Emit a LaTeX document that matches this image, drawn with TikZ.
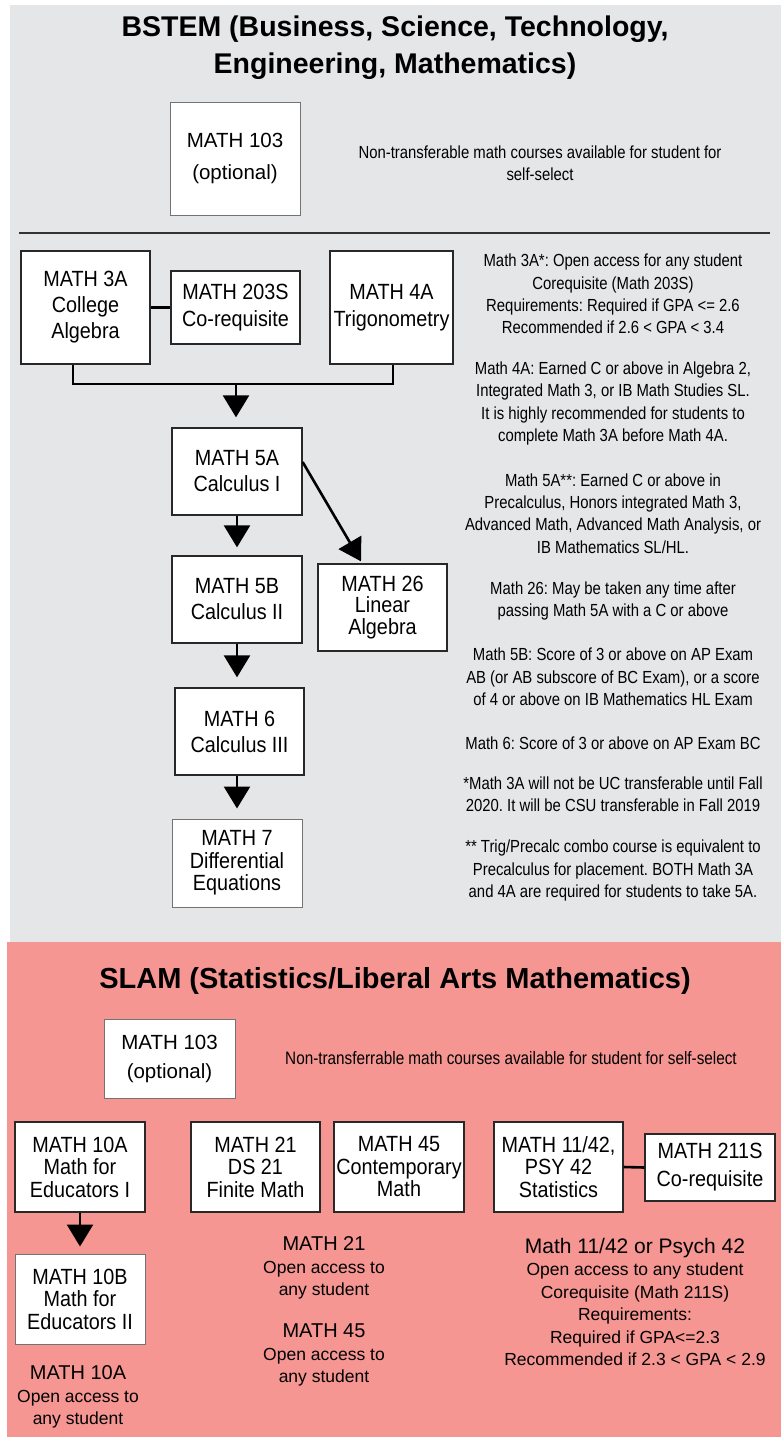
\documentclass[tikz,border=0pt]{standalone}
\usepackage{fontspec}
\setmainfont{Liberation Sans}
\newfontfamily\boxfam[FakeStretch=0.9]{Liberation Sans}
\newfontfamily\notefam[FakeStretch=0.85]{Liberation Sans}
\usetikzlibrary{arrows.meta,calc}
\definecolor{bggray}{RGB}{229,230,232}
\definecolor{bgpink}{RGB}{245,150,146}
\definecolor{edge}{RGB}{40,40,40}
\tikzset{
  box/.style={draw=edge, line width=1.3pt, fill=white, inner sep=0pt, align=center,
    font=\boxfam\fontsize{22}{26}\selectfont},
  openbox/.style={box, draw=black!55, line width=1pt},
  conn/.style={line width=2.6pt, draw=black},
  arr/.style={conn, -{Triangle[width=26pt,length=22pt]}},
  note/.style={align=center, inner sep=0pt, font=\notefam\fontsize{17.5}{22.3}\selectfont},
  lab/.style={align=center, inner sep=0pt, font=\fontsize{17.5}{22.5}\selectfont},
  heading/.style={align=center, inner sep=0pt, font=\fontsize{28.5}{37}\selectfont\bfseries},
}
\newcommand{\labhead}[1]{{\fontsize{20}{22.5}\selectfont #1}}
\begin{document}
\frenchspacing
\begin{tikzpicture}[x=1pt,y=-1pt]
\useasboundingbox (0,0) rectangle (781,1437);
\fill[white] (0,0) rectangle (781,1437);
\fill[bggray] (10,5) rectangle (781,942);
\fill[bgpink] (7,942) rectangle (781,1437);

% ---------------- BSTEM ----------------
\node[heading] (t1) at (395,48) {BSTEM (Business, Science, Technology,\\Engineering, Mathematics)};

\node[openbox, minimum width=130pt, minimum height=113pt, font=\fontsize{20.5}{32}\selectfont] (b103) at (235,158.5) {MATH 103\\(optional)};
\node[note] (nb103) at (540,163) {Non-transferable math courses available for student for\\self-select};

\draw[line width=2pt, draw=black!80] (19,233) -- (770,233);

\node[box, minimum width=129pt, minimum height=113pt] (m3a) at (85.5,307.5) {MATH 3A\\College\\Algebra};
\node[box, minimum width=129pt, minimum height=73pt, font=\boxfam\fontsize{22}{27}\selectfont] (m203) at (235.5,307.5) {MATH 203S\\Co-requisite};
\node[box, minimum width=123pt, minimum height=113pt, font=\boxfam\fontsize{22}{27}\selectfont] (m4a) at (391.5,307.5) {MATH 4A\\Trigonometry};

\draw[conn] (m3a.east) -- (m203.west);
\coordinate (j) at (236,384);
\draw[conn] ([xshift=-12.5pt]m3a.south) |- (j) -| ([xshift=1.5pt]m4a.south);

\node[box, minimum width=130pt, minimum height=87pt] (m5a) at (237,471.5) {MATH 5A\\Calculus I};
\node[box, minimum width=130pt, minimum height=87pt] (m5b) at (237,599.5) {MATH 5B\\Calculus II};
\node[box, minimum width=129pt, minimum height=87pt, font=\boxfam\fontsize{22}{21.5}\selectfont] (m26) at (382.5,607.5) {MATH 26\\Linear\\Algebra};
\node[box, minimum width=129pt, minimum height=87pt] (m6) at (239.5,731.5) {MATH 6\\Calculus III};
\node[openbox, minimum width=130pt, minimum height=88pt, font=\boxfam\fontsize{22}{22.5}\selectfont] (m7) at (237,863) {MATH 7\\Differential\\Equations};

\draw[arr, shorten >=10pt] (j) -- (j |- m5a.north);
\draw[arr, shorten >=8pt] (m5a.south) -- (m5b.north);
\draw[arr] ($(m5a.east)+(0,-9.5)$) -- ($(m26.north)+(-21.5,-2)$);
\draw[arr, shorten >=10pt] (m5b.south) -- (m5b.south |- m6.north);
\draw[arr, shorten >=10pt] (m6.south -| m7.north) -- (m7.north);

\node[note] (n1) at (613,294) {Math 3A*: Open access for any student\\Corequisite (Math 203S)\\Requirements: Required if GPA <= 2.6\\Recommended if 2.6 < GPA < 3.4};
\node[note] (n2) at (613,403.5) {Math 4A: Earned C or above in Algebra 2,\\Integrated Math 3, or IB Math Studies SL.\\It is highly recommended for students to\\complete Math 3A before Math 4A.};
\node[note] (n3) at (613,513.5) {Math 5A**: Earned C or above in\\Precalculus, Honors integrated Math 3,\\Advanced Math, Advanced Math Analysis, or\\IB Mathematics SL/HL.};
\node[note] (n4) at (613,601) {Math 26: May be taken any time after\\passing Math 5A with a C or above};
\node[note] (n5) at (613,677) {Math 5B: Score of 3 or above on AP Exam\\AB (or AB subscore of BC Exam), or a score\\of 4 or above on IB Mathematics HL Exam};
\node[note] (n6) at (613,743) {Math 6: Score of 3 or above on AP Exam BC};
\node[note] (n7) at (613,794.5) {*Math 3A will not be UC transferable until Fall\\2020. It will be CSU transferable in Fall 2019};
\node[note] (n8) at (613,870.5) {** Trig/Precalc combo course is equivalent to\\Precalculus for placement. BOTH Math 3A\\and 4A are required for students to take 5A.};

% ---------------- SLAM ----------------
\node[heading, font=\fontsize{29}{35}\selectfont\bfseries] (t2) at (395,981) {SLAM (Statistics/Liberal Arts Mathematics)};

\node[openbox, minimum width=131pt, minimum height=79pt, font=\fontsize{20.5}{29}\selectfont] (s103) at (169.5,1058.5) {MATH 103\\(optional)};
\node[note, font=\notefam\fontsize{18}{22}\selectfont] (ns103) at (511,1058) {Non-transferrable math courses available for student for self-select};

\node[box, minimum width=130pt, minimum height=90pt, font=\boxfam\fontsize{22}{22.5}\selectfont] (s10a) at (80,1167) {MATH 10A\\Math for\\Educators I};
\node[openbox, minimum width=130pt, minimum height=90pt, font=\boxfam\fontsize{22}{22.5}\selectfont] (s10b) at (80,1299) {MATH 10B\\Math for\\Educators II};
\node[box, minimum width=129pt, minimum height=90pt, font=\boxfam\fontsize{22}{22.5}\selectfont] (s21) at (255.5,1167) {MATH 21\\DS 21\\Finite Math};
\node[box, minimum width=130pt, minimum height=90pt, font=\boxfam\fontsize{22}{22.5}\selectfont] (s45) at (399,1167) {MATH 45\\Contemporary\\Math};
\node[box, minimum width=129pt, minimum height=90pt, font=\boxfam\fontsize{22}{22.5}\selectfont] (s11) at (558.5,1167) {MATH 11/42,\\PSY 42\\Statistics};
\node[box, minimum width=130pt, minimum height=67pt, font=\boxfam\fontsize{22}{28}\selectfont] (s211) at (710,1167.5) {MATH 211S\\Co-requisite};

\draw[conn] (s11.east) -- (s211.west);
\draw[arr, shorten >=7pt] (s10a.south) -- (s10b.north);

\node[lab] (l10a) at (78,1397) {\labhead{MATH 10A}\\Open access to\\any student};
\node[lab] (l21) at (324,1268) {\labhead{MATH 21}\\Open access to\\any student};
\node[lab] (l45) at (324,1355) {\labhead{MATH 45}\\Open access to\\any student};
\node[lab] (l11) at (635,1302) {{\fontsize{21}{22.5}\selectfont Math 11/42 or Psych 42}\\Open access to any student\\Corequisite (Math 211S)\\Requirements:\\Required if GPA<=2.3\\Recommended if 2.3 < GPA < 2.9};
\end{tikzpicture}
\end{document}
